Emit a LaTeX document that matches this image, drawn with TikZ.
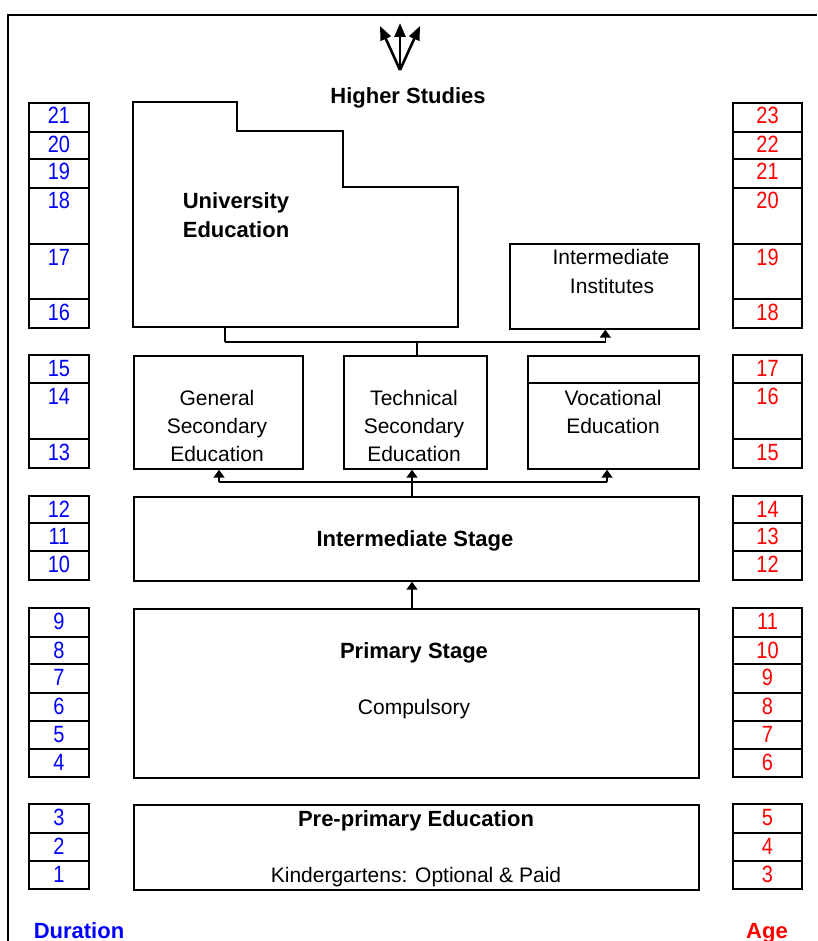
\documentclass[tikz,border=0pt]{standalone}
\usepackage{fontspec}
\setmainfont{Liberation Sans}
\newfontfamily\numfont[FakeStretch=0.85]{Liberation Sans}
\usetikzlibrary{arrows.meta}
\definecolor{durblue}{RGB}{0,0,255}
\definecolor{agered}{RGB}{255,0,0}
\begin{document}
\begin{tikzpicture}[x=1pt,y=-1pt,line width=1.7pt,
  box/.style={draw=black,line width=1.7pt,inner sep=0pt,anchor=north west},
  txt/.style={inner sep=0pt,anchor=base,font=\fontsize{21}{28}\selectfont},
  btxt/.style={inner sep=0pt,anchor=base,font=\fontsize{22}{28}\selectfont\bfseries},
  dnum/.style={inner sep=0pt,anchor=base,text=durblue,font=\fontsize{23.5}{28}\selectfont\numfont},
  anum/.style={inner sep=0pt,anchor=base,text=agered,font=\fontsize{23.5}{28}\selectfont\numfont},
  cell/.style={draw=black,line width=1.7pt},
  arr/.style={-{Triangle[width=11pt,length=8pt]},line width=1.7pt},
  trident/.style={-{Triangle[width=11pt,length=14pt]},line width=2.6pt}
]
\useasboundingbox (0,0) rectangle (817,941);
\fill[white] (0,0) rectangle (817,941);
% outer frame
\draw[line width=2pt] (8,941) -- (8,15) -- (817,15);

% trident
\coordinate (tb) at (400,70);
\coordinate (tl) at (380,26);
\coordinate (tm) at (400,23);
\coordinate (tr) at (420,26);
\draw[trident] (tb) -- (tl);
\draw[trident] (tb) -- (tm);
\draw[trident] (tb) -- (tr);
\node[btxt] (hs) at (408,104) {Higher Studies};

% number columns
\foreach \t/\b in {103/132,132/159,159/188,188/244,244/299,299/328,
  355/383,383/439,439/468,496/523,523/551,551/580,
  608/637,637/664,664/693,693/721,721/749,749/777,
  804/833,833/861,861/889}{
  \draw[cell] (29,\t) rectangle (89,\b);
  \draw[cell] (733,\t) rectangle (802,\b);
}
\foreach \t/\d/\a in {103/21/23,132/20/22,159/19/21,188/18/20,244/17/19,299/16/18,
  355/15/17,383/14/16,439/13/15,496/12/14,523/11/13,551/10/12,
  608/9/11,637/8/10,664/7/9,693/6/8,721/5/7,749/4/6,
  804/3/5,833/2/4,861/1/3}{
  \node[dnum] (d\d) at (59,\t+21) {\d};
  \node[anum] (a\a) at (767.5,\t+21) {\a};
}
\node[btxt,text=durblue] (dur) at (79,938) {Duration};
\node[btxt,text=agered] (age) at (767,938) {Age};

% university education
\draw (133,102) -- (237,102) -- (237,131) -- (343,131) -- (343,187)
  -- (458,187) -- (458,327) -- (133,327) -- cycle;
\coordinate (univbot) at (225,327);
\node[btxt,anchor=base west] (univ1) at (182,208) {University};
\node[btxt,anchor=base west] (univ2) at (182,237) {Education};

% intermediate institutes
\node[box,minimum width=189pt,minimum height=85pt] (instit) at (509,243) {};
\node[txt] (inst1) at (611,264) {Intermediate};
\node[txt] (inst2) at (612,293) {Institutes};

% secondary boxes
\node[box,minimum width=169pt,minimum height=113pt] (general) at (133,355) {};
\node[txt] (gen1) at (217,405) {General};
\node[txt] (gen2) at (217,433) {Secondary};
\node[txt] (gen3) at (217,461) {Education};

\node[box,minimum width=143pt,minimum height=113pt] (technical) at (343,355) {};
\node[txt] (tec1) at (414,405) {Technical};
\node[txt] (tec2) at (414,433) {Secondary};
\node[txt] (tec3) at (414,461) {Education};

\node[box,minimum width=171pt,minimum height=113pt] (vocational) at (527,355) {};
\draw ([yshift=-28pt]vocational.north west) -- ([yshift=-28pt]vocational.north east);
\node[txt] (voc1) at (613,405) {Vocational};
\node[txt] (voc2) at (613,433) {Education};

% stages
\node[box,minimum width=565pt,minimum height=84pt] (inter) at (133,496) {};
\node[btxt] (intert) at (415,546) {Intermediate Stage};

\node[box,minimum width=565pt,minimum height=169pt] (primary) at (133,608) {};
\node[btxt] (prim1) at (414,658) {Primary Stage};
\node[txt] (prim2) at (414,714) {Compulsory};

\node[box,minimum width=565pt,minimum height=85pt] (pre) at (133,804) {};
\node[btxt] (pre1) at (416,826) {Pre-primary Education};
\node[txt] (pre2) at (416,882) {Kindergartens: Optional \& Paid};

% connectors upper
\coordinate (junc) at (225,342);
\draw (univbot) -- (junc);
\draw[arr] (junc) -| ([xshift=1pt]instit.south);
\draw (technical.north -| 417,0) -- (junc -| 417,0);

% connectors lower
\coordinate (c1) at (219,482);
\coordinate (c2) at (412,482);
\coordinate (c3) at (607,482);
\draw (c1) -- (c3);
\draw[arr] (c1) -- (c1 |- general.south);
\draw[arr] (c3) -- (c3 |- vocational.south);
\draw[arr] (c2 |- inter.north) -- (c2 |- technical.south);
\draw[arr] (c2 |- primary.north) -- (c2 |- inter.south);
\end{tikzpicture}
\end{document}
